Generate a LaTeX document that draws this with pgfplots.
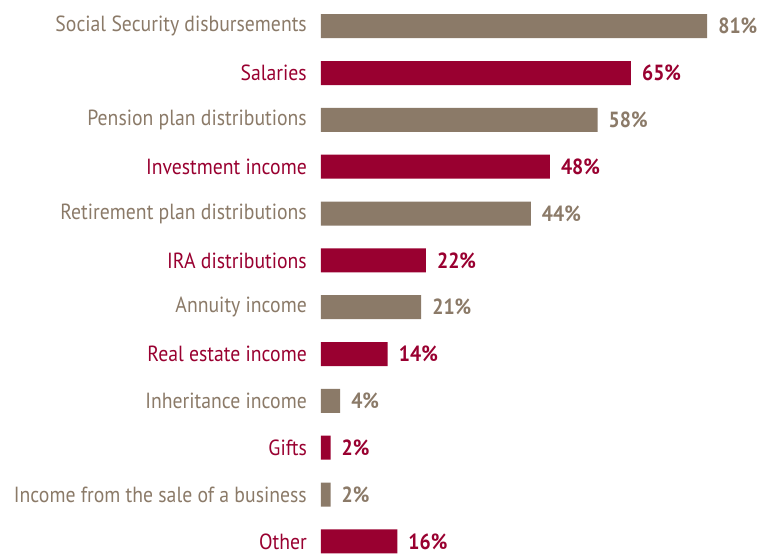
\documentclass[border=0pt]{standalone}
\usepackage{pgfplots}
\pgfplotsset{compat=1.18}
\usepackage{fontspec}
\setmainfont{PT Sans}[FakeStretch=0.90]
\definecolor{tanc}{HTML}{8B7A68}
\definecolor{crim}{HTML}{990030}
\begin{document}
\begin{tikzpicture}
\begin{axis}[name=ax, scale only axis, width=441bp, height=554bp,
  xmin=0, xmax=92.5, ymin=-0.56, ymax=11.27, y dir=reverse,
  xbar, bar width=24bp, bar shift=0pt,
  axis line style={draw=none}, major tick length=0pt,
  /pgf/number format/assume math mode=true,
  xtick=\empty, ytick={0,...,11},
  yticklabel style={inner sep=0pt, xshift=-14bp, font=\fontsize{22}{22}\selectfont},
  yticklabels={\textcolor{tanc}{Social Security disbursements},
    \textcolor{crim}{Salaries},
    \textcolor{tanc}{Pension plan distributions},
    \textcolor{crim}{Investment income},
    \textcolor{tanc}{Retirement plan distributions},
    \textcolor{crim}{IRA distributions},
    \textcolor{tanc}{Annuity income},
    \textcolor{crim}{Real estate income},
    \textcolor{tanc}{Inheritance income},
    \textcolor{crim}{Gifts},
    \textcolor{tanc}{Income from the sale of a business},
    \textcolor{crim}{Other}},
  nodes near coords={\pgfmathprintnumber{\pgfplotspointmeta}\%},
  point meta=explicit,
  every node near coord/.append style={anchor=west, inner sep=0pt, xshift=11bp, font=\fontsize{22}{22}\selectfont\bfseries},
  clip=false]
\addplot[fill=tanc, draw=none, every node near coord/.append style={text=tanc}] coordinates {
  (81,0) [81] (58,2) [58] (44,4) [44] (21,6) [21] (4,8) [4] (2,10) [2]};
\addplot[fill=crim, draw=none, every node near coord/.append style={text=crim}] coordinates {
  (65,1) [65] (48,3) [48] (22,5) [22] (14,7) [14] (2,9) [2] (16,11) [16]};
\end{axis}
\pgfresetboundingbox
\path[use as bounding box] ([xshift=-321bp]ax.south west) rectangle (ax.north east);
\end{tikzpicture}
\end{document}
